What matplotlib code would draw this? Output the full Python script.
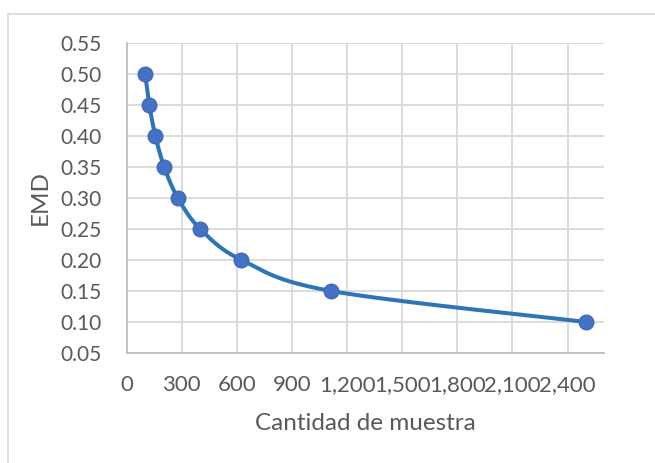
import numpy as np
import matplotlib
matplotlib.use('Agg')
import matplotlib.pyplot as plt
from matplotlib.patches import Rectangle

# data
muestra = [100, 123, 156, 204, 278, 400, 625, 1111, 2500]
emd = [0.50, 0.45, 0.40, 0.35, 0.30, 0.25, 0.20, 0.15, 0.10]
x_ticks = [0, 300, 600, 900, 1200, 1500, 1800, 2100, 2400]
y_ticks = [0.05, 0.10, 0.15, 0.20, 0.25, 0.30, 0.35, 0.40, 0.45, 0.50, 0.55]

plt.rcParams['font.family'] = ['Lato', 'DejaVu Sans']
txt = '#595959'
grid = '#d9d9d9'


def smooth(xs, ys, n=40):
    # Catmull-Rom style bezier segments, like Excel's smoothed line
    p = np.column_stack([xs, ys]).astype(float)
    p = np.vstack([p[0], p, p[-1]])
    out = []
    t = np.linspace(0, 1, n)[:, None]
    for i in range(1, len(p) - 2):
        p0, p1, p2, p3 = p[i - 1], p[i], p[i + 1], p[i + 2]
        c1 = p1 + (p2 - p0) / 6
        c2 = p2 - (p3 - p1) / 6
        seg = ((1 - t) ** 3) * p1 + 3 * ((1 - t) ** 2) * t * c1 + 3 * (1 - t) * t ** 2 * c2 + t ** 3 * p2
        out.append(seg)
    out = np.vstack(out)
    return out[:, 0], out[:, 1]


fig = plt.figure(figsize=(6.55, 4.63), dpi=100)
ax = fig.add_axes([0.1934, 0.2376, 0.9226 - 0.1934, 0.9078 - 0.2376])

# chart area border
fig.patches.append(Rectangle((7.5 / 655, -0.05), 1.0, 1 - 14 / 463 + 0.05,
                             transform=fig.transFigure, fill=False,
                             edgecolor='#d9d9d9', linewidth=1.2))

sx, sy = smooth(muestra, emd)
ax.plot(sx, sy, color='#2e75b6', linewidth=2.9, solid_capstyle='round', zorder=3)
ax.plot(muestra, emd, linestyle='none', marker='o', markersize=10.5,
        markerfacecolor='#4472c4', markeredgecolor='#3e6ab8', markeredgewidth=1, zorder=4)

ax.set_xlim(0, 2600)
ax.set_ylim(0.05, 0.55)
ax.set_xticks(x_ticks)
ax.set_xticklabels([f'{v:,}' for v in x_ticks])
ax.set_yticks(y_ticks)
ax.set_yticklabels([f'{v:.2f}' for v in y_ticks])
ax.grid(True, color=grid, linewidth=1.3)
ax.set_axisbelow(True)

for s in ['top', 'right']:
    ax.spines[s].set_visible(False)
for s in ['left', 'bottom']:
    ax.spines[s].set_color('#bfbfbf')
    ax.spines[s].set_linewidth(1.3)

ax.tick_params(length=0, labelsize=15, colors=txt)
ax.tick_params(axis='x', pad=16, labelsize=16)
ax.tick_params(axis='y', pad=18)

ax.set_xlabel('Cantidad de muestra', fontsize=17.5, color=txt, labelpad=13)
ax.set_ylabel('EMD', fontsize=17.5, color=txt, labelpad=7)

fig.savefig('out.png', dpi=100)
